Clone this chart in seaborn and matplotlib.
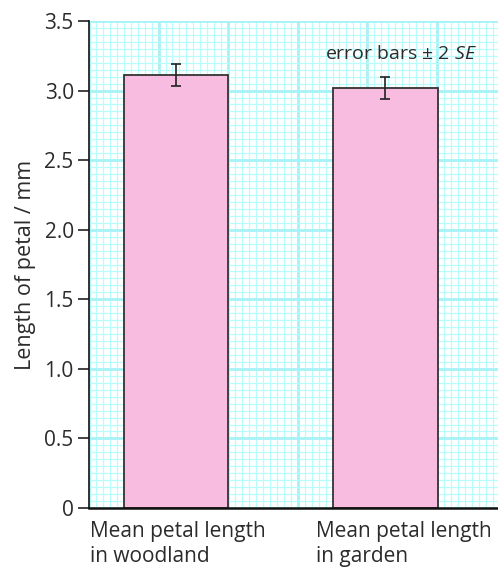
import numpy as np
import matplotlib
matplotlib.use("Agg")
import matplotlib.pyplot as plt
import matplotlib.transforms as mtransforms
from matplotlib.ticker import MultipleLocator
import seaborn as sns

sites = ["Mean petal length\nin woodland", "Mean petal length\nin garden"]
mean_length = [3.11, 3.02]
two_se = [0.08, 0.08]
y_ticks = [0, 0.5, 1.0, 1.5, 2.0, 2.5, 3.0, 3.5]
y_ticklabels = ["0", "0.5", "1.0", "1.5", "2.0", "2.5", "3.0", "3.5"]

sns.set_style("white")
plt.rcParams["font.family"] = ["Open Sans", "DejaVu Sans"]
plt.rcParams["mathtext.fontset"] = "custom"
plt.rcParams["mathtext.rm"] = "Open Sans"
plt.rcParams["mathtext.it"] = "Open Sans:italic"

fig = plt.figure(figsize=(4.98, 5.68), dpi=100)
pos = [89 / 498, 60 / 568, 409 / 498, 487 / 568]

# graph paper background
gx = fig.add_axes(pos)
gx.set_xlim(0, 409 / 487 * 3.5)
gx.set_ylim(0, 3.5)
gx.xaxis.set_major_locator(MultipleLocator(0.5))
gx.xaxis.set_minor_locator(MultipleLocator(0.05))
gx.yaxis.set_major_locator(MultipleLocator(0.5))
gx.yaxis.set_minor_locator(MultipleLocator(0.05))
gx.grid(which="minor", color="#b8fcfc", lw=0.9)
gx.grid(which="major", color="#a6f2f6", lw=2.0)
gx.tick_params(which="both", length=0, labelleft=False, labelbottom=False)
for s in gx.spines.values():
    s.set_visible(False)
gx.set_zorder(0)

ax = fig.add_axes(pos)
ax.set_zorder(1)
ax.patch.set_visible(False)
df = {"site": sites, "length": mean_length}
sns.barplot(x="site", y="length", data=df, ax=ax, color="#f8bce0", saturation=1,
            width=0.5, edgecolor="#333333", linewidth=1.3, errorbar=None)
ax.errorbar(range(len(sites)), mean_length, yerr=two_se, fmt="none",
            ecolor="#222222", elinewidth=1.2, capsize=3.5, capthick=1.2)

ax.set_xlim(-0.415, 1.537)
ax.set_ylim(0, 3.5)
ax.set_yticks(y_ticks)
ax.set_yticklabels(y_ticklabels)
ax.tick_params(axis="y", direction="out", length=8, width=1.2, color="#222222",
               labelsize=15, pad=3, labelcolor="#2b2b2b", left=True)
ax.tick_params(axis="x", length=0, labelsize=15, labelcolor="#2b2b2b", pad=9)
for lbl, dx in zip(ax.get_xticklabels(), [-86, -69]):
    lbl.set_horizontalalignment("left")
    lbl.set_multialignment("left")
    lbl.set_linespacing(1.3)
    lbl.set_transform(lbl.get_transform() + mtransforms.ScaledTranslation(dx / 100, 0, fig.dpi_scale_trans))
ax.set_xlabel("")
ax.set_ylabel("Length of petal / mm", fontsize=15.5, color="#2b2b2b", labelpad=6)

for side in ["top", "right"]:
    ax.spines[side].set_visible(False)
ax.spines["left"].set_color("#111111")
ax.spines["left"].set_linewidth(1.2)
ax.spines["bottom"].set_color("#111111")
ax.spines["bottom"].set_linewidth(1.8)

ax.text(1.074, 3.26, r"error bars ± 2 $\mathit{SE}$", fontsize=14, color="#2b2b2b",
        ha="center", va="center")

fig.savefig("out.png", dpi=100)
